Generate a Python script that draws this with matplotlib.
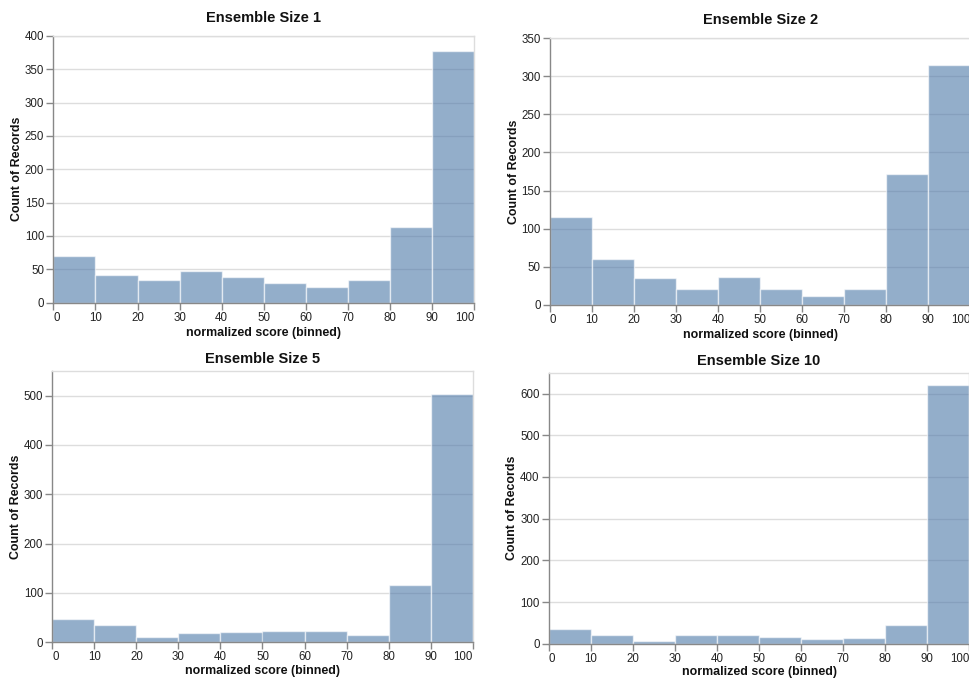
import matplotlib
matplotlib.use("Agg")
import matplotlib.pyplot as plt
import numpy as np

plt.rcParams['font.family'] = ['Liberation Sans', 'DejaVu Sans']

bin_edges = [0, 10, 20, 30, 40, 50, 60, 70, 80, 90, 100]
titles = ["Ensemble Size 1", "Ensemble Size 2", "Ensemble Size 5", "Ensemble Size 10"]
counts_1 = [70, 42, 34, 47, 39, 29, 24, 34, 113, 378]
counts_2 = [115, 60, 35, 20, 36, 21, 11, 21, 172, 315]
counts_5 = [48, 35, 10, 18, 21, 22, 22, 14, 116, 503]
counts_10 = [35, 20, 7, 21, 21, 16, 12, 13, 45, 621]
y_max = [400, 350, 550, 650]
y_step = [50, 50, 100, 100]
x_label = "normalized score (binned)"
y_label = "Count of Records"

W, H = 969, 681
fig = plt.figure(figsize=(W / 100, H / 100), dpi=100)

# pixel boxes: left, top, right, bottom
boxes = [
    (53.3, 36.0, 474.4, 302.5),
    (550.0, 38.3, 970.4, 304.7),
    (52.3, 371.0, 472.7, 642.3),
    (548.7, 372.7, 969.4, 643.7),
]
title_pads = [10, 10, 5.7, 5.7]
xlabel_pads = [2.2, 2.2, 1.2, 1.0]
all_counts = [counts_1, counts_2, counts_5, counts_10]

bar_color = '#4c78a8'
for i in range(4):
    l, t, r, b = boxes[i]
    ax = fig.add_axes([l / W, (H - b) / H, (r - l) / W, (b - t) / H])
    edges = np.array(bin_edges, dtype=float)
    ax.bar(edges[:-1], all_counts[i], width=np.diff(edges), align='edge',
           color=bar_color, alpha=0.6, edgecolor='white', linewidth=1.0, zorder=2)
    ax.set_xlim(0, 100)
    ax.set_ylim(0, y_max[i])
    ax.set_xticks(bin_edges)
    yt = np.arange(0, y_max[i] + 1, y_step[i])
    ax.set_yticks(yt)
    ax.grid(axis='y', color='#dddddd', linewidth=1.0, zorder=0)
    ax.set_axisbelow(True)
    for s in ['top', 'right']:
        ax.spines[s].set_color('#dddddd')
        ax.spines[s].set_linewidth(1.0)
    for s in ['left', 'bottom']:
        ax.spines[s].set_color('#888888')
        ax.spines[s].set_linewidth(1.0)
    ax.tick_params(axis='both', color='#888888', length=5, width=1.0,
                   labelsize=8.3, labelcolor='#222222', pad=1.5)
    labels = ax.set_xticklabels([str(v) for v in bin_edges])
    labels[0].set_horizontalalignment('left')
    labels[-1].set_horizontalalignment('right')
    ax.set_xlabel(x_label, fontsize=8.9, fontweight='bold', labelpad=xlabel_pads[i], color='#111111')
    ax.set_ylabel(y_label, fontsize=8.9, fontweight='bold', labelpad=1.5, color='#111111')
    ax.set_title(titles[i], fontsize=10.5, fontweight='bold', pad=title_pads[i], color='#111111')

fig.savefig("out.png", dpi=100)
